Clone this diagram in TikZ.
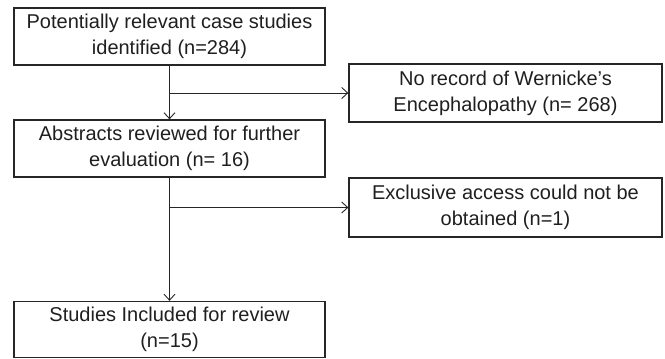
\documentclass[tikz,border=0pt]{standalone}
\usepackage{fontspec}
\setmainfont{Liberation Sans}
\usetikzlibrary{arrows.meta}
\begin{document}
\begin{tikzpicture}[x=1pt,y=-1pt,
  box/.style={draw=black!85,line width=1.3pt,align=center,inner sep=0pt,
    font=\fontsize{20}{26}\selectfont,text=black!88},
  conn/.style={draw=black!85,line width=1pt},
  arr/.style={conn,-{Straight Barb[length=6pt,width=11pt,line width=0.9pt]}}]
\useasboundingbox (0,0) rectangle (665,359);
\node[box,minimum width=311pt,minimum height=57pt] (b1) at (169.5,36.5) {Potentially relevant case studies\\identified (n=284)};
\node[box,minimum width=313pt,minimum height=58pt] (b2) at (505.5,93) {No record of Wernicke’s\\Encephalopathy (n= 268)};
\node[box,minimum width=311pt,minimum height=57pt] (b3) at (169.5,148.5) {Abstracts reviewed for further\\evaluation (n= 16)};
\node[box,minimum width=313pt,minimum height=59pt] (b4) at (505.5,207.5) {Exclusive access could not be\\obtained (n=1)};
\node[box,minimum width=311pt,minimum height=56pt] (b5) at (169.5,329.5) {Studies Included for review\\(n=15)};
\coordinate (j1) at (b1.south |- b2.west);
\coordinate (j2) at (b3.south |- b4.west);
\draw[arr] (b1.south) -- (b3.north);
\draw[arr] (j1) -- (b2.west);
\draw[arr] (b3.south) -- (b5.north);
\draw[arr] (j2) -- (b4.west);
\end{tikzpicture}
\end{document}
